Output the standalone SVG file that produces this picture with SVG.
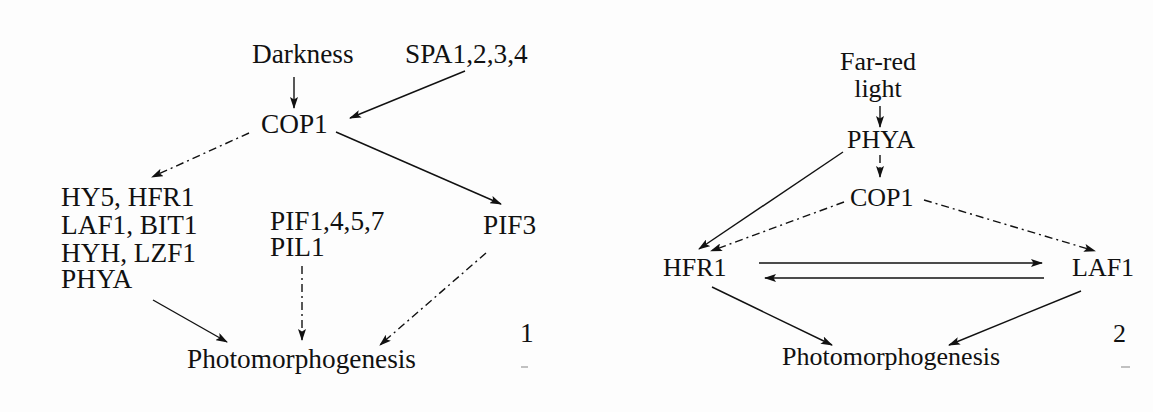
<svg xmlns="http://www.w3.org/2000/svg" width="1153" height="412" viewBox="0 0 1153 412">
  <style>
    text { font-family: "Liberation Serif", "Times New Roman", serif; fill: #111; }
    .l { font-size: 27.3px; }
    .r { font-size: 26px; }
    .edge { stroke: #111; stroke-width: 1.4; fill: none; marker-end: url(#arrow); }
    .dd { stroke-dasharray: 8 4 2 4; }
    .mark { stroke: #999; stroke-width: 1.2; }
  </style>
  <defs>
    <marker id="arrow" viewBox="0 0 12 8" refX="11" refY="4" markerWidth="12" markerHeight="8" markerUnits="userSpaceOnUse" orient="auto">
      <path d="M0,0 L12,4 L0,8 L2.5,4 Z" fill="#111"/>
    </marker>
  </defs>
  <rect width="1153" height="412" fill="#fdfdfd"/>

  <!-- Panel 1: darkness pathway -->
  <g id="darkness"><text class="l" x="252" y="63">Darkness</text></g>
  <g id="spa"><text class="l" x="405" y="63">SPA1,2,3,4</text></g>
  <g id="cop1-a"><text class="l" x="261" y="133">COP1</text></g>
  <g id="targets-a">
    <text class="l"><tspan x="61" y="206">HY5, HFR1</tspan><tspan x="61" y="234">LAF1, BIT1</tspan><tspan x="61" y="262">HYH, LZF1</tspan><tspan x="61" y="288">PHYA</tspan></text>
  </g>
  <g id="pifs"><text class="l"><tspan x="270" y="230">PIF1,4,5,7</tspan><tspan x="270" y="256">PIL1</tspan></text></g>
  <g id="pif3"><text class="l" x="483" y="234">PIF3</text></g>
  <g id="photo-a"><text class="l" x="187" y="368">Photomorphogenesis</text></g>
  <g id="label-1"><text class="l" x="520" y="342">1</text><line class="mark" x1="521" y1="367" x2="528" y2="367"/></g>

  <!-- Panel 2: far-red light pathway -->
  <g id="farred"><text class="r" text-anchor="middle"><tspan x="878" y="70">Far-red</tspan><tspan x="878" y="97">light</tspan></text></g>
  <g id="phya"><text class="r" x="881" y="148" text-anchor="middle">PHYA</text></g>
  <g id="cop1-b"><text class="r" x="850" y="206">COP1</text></g>
  <g id="hfr1"><text class="r" x="663" y="276">HFR1</text></g>
  <g id="laf1"><text class="r" x="1072" y="276">LAF1</text></g>
  <g id="photo-b"><text class="r" x="782" y="365">Photomorphogenesis</text></g>
  <g id="label-2"><text class="r" x="1113" y="342">2</text><line class="mark" x1="1121" y1="367" x2="1130" y2="367"/></g>

  <g id="connectors">
    <!-- panel 1 -->
    <line class="edge" x1="294" y1="77" x2="294" y2="108"/>
    <line class="edge" x1="465" y1="71" x2="350" y2="118"/>
    <line class="edge dd" x1="249" y1="133" x2="152" y2="177"/>
    <line class="edge" x1="336" y1="132" x2="501" y2="204"/>
    <line class="edge" x1="153" y1="300" x2="227" y2="342"/>
    <line class="edge dd" x1="302" y1="266" x2="302" y2="340"/>
    <line class="edge dd" x1="486" y1="253" x2="380" y2="345"/>
    <!-- panel 2 -->
    <line class="edge" x1="880" y1="106" x2="880" y2="127"/>
    <line class="edge dd" x1="880" y1="155" x2="880" y2="177"/>
    <line class="edge" x1="843" y1="152" x2="699" y2="249"/>
    <line class="edge dd" x1="844" y1="202" x2="711" y2="251"/>
    <line class="edge dd" x1="924" y1="200" x2="1095" y2="251"/>
    <line class="edge" x1="759" y1="263" x2="1042" y2="263"/>
    <line class="edge" x1="1044" y1="278" x2="765" y2="278"/>
    <line class="edge" x1="712" y1="287" x2="832" y2="345"/>
    <line class="edge" x1="1081" y1="291" x2="949" y2="345"/>
  </g>
</svg>
